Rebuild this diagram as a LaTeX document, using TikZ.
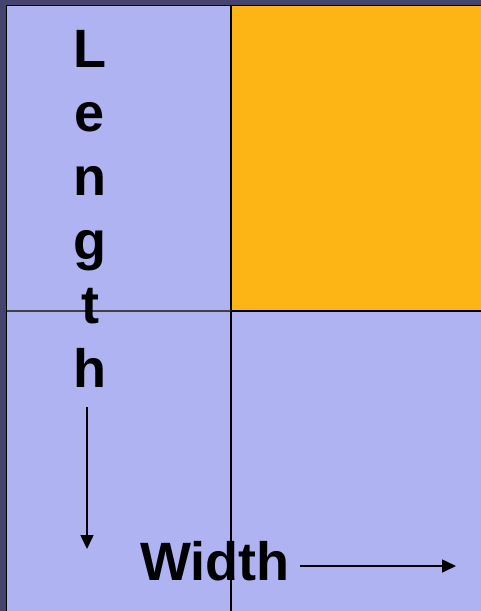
\documentclass[tikz,border=0pt]{standalone}
\usepackage{fontspec}
\setmainfont{Liberation Sans}
\usepackage{tikz}
\usetikzlibrary{positioning,arrows.meta}
\usepackage{xcolor}
\definecolor{frameblue}{HTML}{45446F}
\definecolor{areablue}{HTML}{AFB3F2}
\definecolor{areagold}{HTML}{FDB515}

\begin{document}
\begin{tikzpicture}[x=1pt,y=-1pt,>={Triangle[length=14pt,width=13pt]},
  dim/.style={font=\bfseries\fontsize{54}{64}\selectfont,inner sep=0pt,align=center},
  dimarrow/.style={->,line width=1.6pt},
  grid/.style={draw=black,line width=1.6pt}]
  \useasboundingbox (0,0) rectangle (481,611);
  \fill[frameblue] (0,0) rectangle (481,611);
  \fill[areablue,grid] (6.5,5.5) rectangle (490,620);
  % highlighted part of the area
  \fill[areagold,grid] (231,5.5) rectangle (490,311);
  \draw[draw=black!75,line width=1.2pt] (6.5,311) -- (231,311);
  \draw[grid] (231,311) -- (231,620);
  % labels
  \node[dim,anchor=north] (len) at (90,30) {L\\e\\n\\g\\t\\h};
  \node[dim,anchor=base west] (wid) at (140,580) {Width};
  \coordinate (lentop) at (87,407);
  \coordinate (lenend) at (87,549);
  \coordinate (widend) at (456,566);
  \draw[dimarrow] (lentop) -- (lenend);
  \draw[dimarrow] (wid.east|-widend) ++(10,0) coordinate (widstart) -- (widend);
\end{tikzpicture}
\end{document}
